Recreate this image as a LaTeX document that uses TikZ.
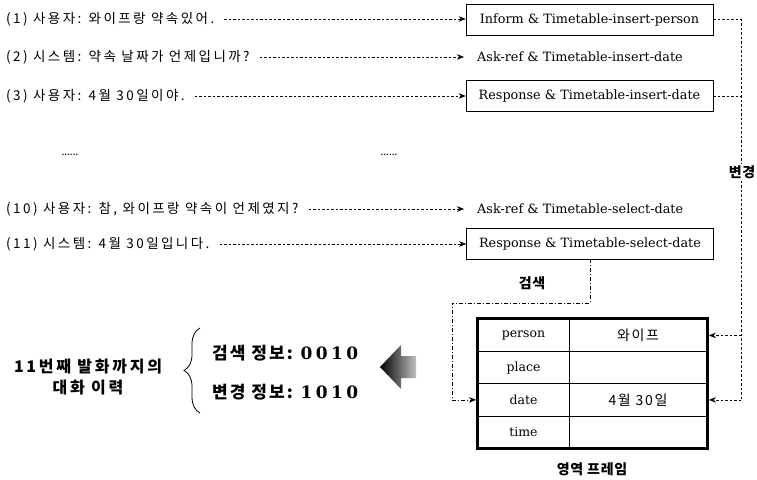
\documentclass[tikz,border=0pt]{standalone}
\usepackage{fontspec}
\setmainfont{DejaVu Serif}
\newfontfamily\kr{Noto Sans CJK KR}[LetterSpace=18]
\newfontfamily\krc{Noto Sans CJK KR}[LetterSpace=12]
\newfontfamily\krh{Noto Sans CJK KR}[LetterSpace=17]
\newfontfamily\kri{Noto Sans CJK KR}[LetterSpace=12]
\newfontfamily\krl{Noto Sans CJK KR}[LetterSpace=5]
\newfontfamily\digs{DejaVu Serif}[LetterSpace=20]
\usetikzlibrary{arrows.meta,decorations.pathreplacing,calc}
\begin{document}
\begin{tikzpicture}[x=1pt,y=-1pt,
  utt/.style={anchor=west, inner sep=0pt, font=\kr\fontsize{13.5}{15}\selectfont},
  actbox/.style={draw, line width=0.7pt, minimum width=247pt, minimum height=31pt, inner sep=0pt, font=\fontsize{12.8}{14}\selectfont},
  act/.style={anchor=west, inner sep=0pt, font=\fontsize{12.8}{14}\selectfont},
  dots/.style={font=\bfseries\fontsize{8}{9}\selectfont, inner sep=0pt},
  dline/.style={dash pattern=on 2.5pt off 2pt, line width=0.6pt},
  dasharr/.style={dline, -{Stealth[length=7pt,width=5.5pt]}},
  dashdot/.style={dash pattern=on 4pt off 2pt on 1pt off 2pt, line width=0.6pt},
  cell/.style={draw, line width=0.8pt, minimum height=32.25pt, inner sep=0pt, font=\fontsize{12.5}{14}\selectfont},
  krcell/.style={cell, font=\krc\fontsize{14}{16}\selectfont},
  lbl/.style={inner sep=1pt, font=\krl\bfseries\fontsize{14}{16}\selectfont},
  info/.style={anchor=west, inner sep=0pt, font=\kri\bfseries\fontsize{17}{20}\selectfont}
]
\useasboundingbox (0,0) rectangle (757,479);

% utterances
\node[utt] (t1) at (6,19) {(1) 사용자: 와이프랑 약속있어.};
\node[utt] (t2) at (6,57) {(2) 시스템: 약속 날짜가 언제입니까?};
\node[utt] (t3) at (6,96) {(3) 사용자: 4월 30일이야.};
\node[dots] (d1) at (70,155) {......};
\node[dots] (d2) at (389,155) {......};
\node[utt] (t10) at (6,209) {(10) 사용자: 참, 와이프랑 약속이 언제였지?};
\node[utt] (t11) at (6,244) {(11) 시스템: 4월 30일입니다.};

% dialogue acts
\node[actbox] (b1) at (589.5,19.5) {Inform \& Timetable-insert-person};
\node[act] (b2) at (477,57) {Ask-ref \& Timetable-insert-date};
\node[actbox] (b3) at (589.5,96) {Response \& Timetable-insert-date};
\node[act] (b10) at (477,209) {Ask-ref \& Timetable-select-date};
\node[actbox] (b11) at (590,243.5) {Response \& Timetable-select-date};

\draw[dasharr, shorten <=10pt] (t1.east) -- (t1.east -| b1.west);
\draw[dasharr, shorten <=10pt, shorten >=13pt] (t2.east) -- (t2.east -| b2.west);
\draw[dasharr, shorten <=10pt] (t3.east) -- (t3.east -| b3.west);
\draw[dasharr, shorten <=10pt, shorten >=13pt] (t10.east) -- (t10.east -| b10.west);
\draw[dasharr, shorten <=10pt] (t11.east) -- (t11.east -| b11.west);

% frame table
\node[cell, minimum width=91pt] (pk) at (523.5,335.4) {person};
\node[krcell, minimum width=138pt] (pv) at (638,335.4) {와이프};
\node[cell, minimum width=91pt] (lk) at (523.5,367.6) {place};
\node[krcell, minimum width=138pt] (lv) at (638,367.6) {};
\node[cell, minimum width=91pt] (dk) at (523.5,399.9) {date};
\node[krcell, minimum width=138pt] (dv) at (638,399.9) {4월 30일};
\node[cell, minimum width=91pt] (tk) at (523.5,432.1) {time};
\node[krcell, minimum width=138pt] (tv) at (638,432.1) {};
\draw[line width=3pt] (pk.north west) rectangle (tv.south east);
\node[lbl] (frame) at (592,469) {영역 프레임};

% change path
\coordinate (vx) at (741,0);
\draw[dline] (b1.east) -- (b1.east -| vx) -- (vx |- dv.east);
\draw[dline] (b3.east) -- (b3.east -| vx);
\draw[dasharr, shorten >=1.5pt] (vx |- pv.east) -- (pv.east);
\draw[dasharr, shorten >=1.5pt] (vx |- dv.east) -- (dv.east);
\node[lbl, fill=white] (chg) at (742,172) {변경};

% search path
\coordinate (sx) at (452,303);
\draw[dashdot, -{Stealth[length=7pt,width=5.5pt]}, shorten >=1.5pt] (b11.south) |- (sx) |- (dk.west);
\node[lbl] (srch) at (532,283) {검색};

% history
\shade[left color=black, right color=black!25] (380,367) -- (401,345) -- (401,356) -- (416,356) -- (416,378) -- (401,378) -- (401,389) -- cycle;
\draw[decorate, decoration={brace, amplitude=16pt}, line width=0.8pt] (200,413) -- (200,328);
\node[align=center, inner sep=0pt, font=\krh\bfseries\fontsize{16}{21}\selectfont] (hist) at (88,377.5) {11번째 발화까지의\\대화 이력};
\node[info] (si) at (212,353) {검색 정보: {\digs 0010}};
\node[info] (ci) at (212,392) {변경 정보: {\digs 1010}};
\end{tikzpicture}
\end{document}
